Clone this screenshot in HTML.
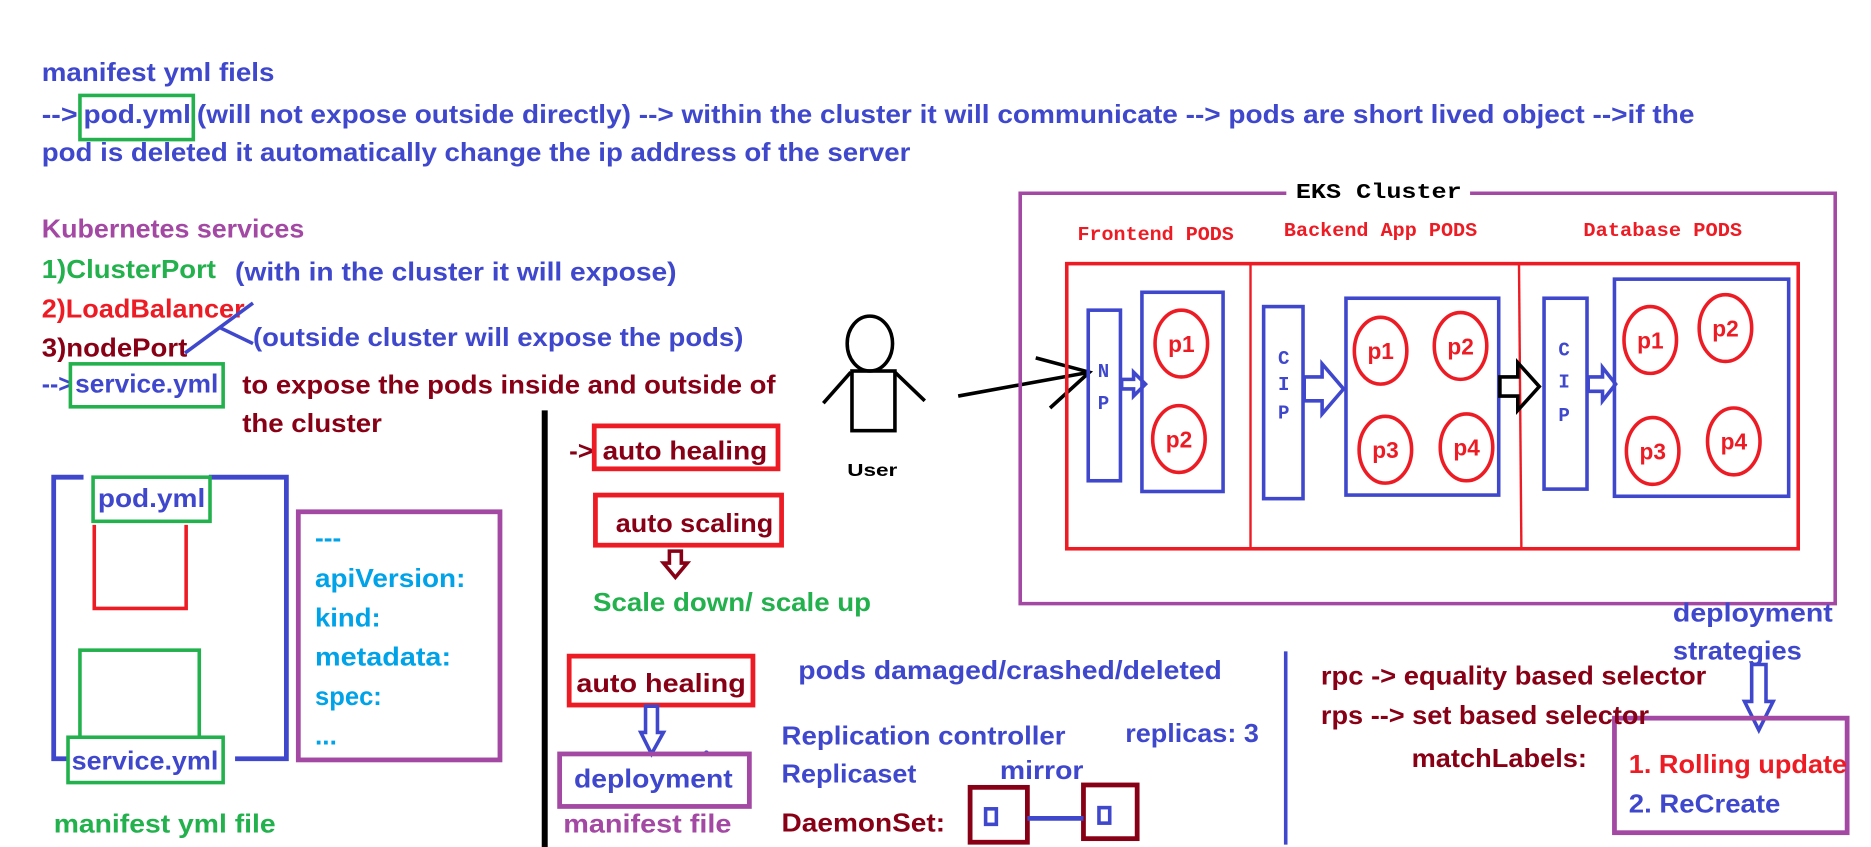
<!DOCTYPE html>
<html><head><meta charset="utf-8"><style>
html,body{margin:0;padding:0;background:#fff;}
svg{display:block;}
text{font-family:"Liberation Sans",sans-serif;font-weight:bold;font-size:22px;}
.m{font-family:"Liberation Mono",monospace;font-size:16px;}
</style></head><body>
<svg width="1871" height="847" viewBox="0 0 1568 710" preserveAspectRatio="none" xmlns="http://www.w3.org/2000/svg">
<rect width="1568" height="710" fill="#fff"/>
<g>
<text x="35" y="68" fill="#3f48cc" textLength="195" lengthAdjust="spacingAndGlyphs">manifest yml fiels</text>
<text x="35" y="103" fill="#3f48cc" textLength="30" lengthAdjust="spacingAndGlyphs">--&gt;</text>
<rect x="67" y="80" width="95" height="37" fill="none" stroke="#22b14c" stroke-width="3"/>
<text x="70" y="103" fill="#3f48cc" textLength="90" lengthAdjust="spacingAndGlyphs">pod.yml</text>
<text x="165" y="103" fill="#3f48cc" textLength="1255" lengthAdjust="spacingAndGlyphs">(will not expose outside directly) --&gt; within the cluster it will communicate --&gt; pods are short lived object --&gt;if the</text>
<text x="35" y="135" fill="#3f48cc" textLength="728" lengthAdjust="spacingAndGlyphs">pod is deleted it automatically change the ip address of the server</text>
<text x="35" y="199" fill="#a349a4" textLength="220" lengthAdjust="spacingAndGlyphs">Kubernetes services</text>
<text x="35" y="233" fill="#22b14c" textLength="146" lengthAdjust="spacingAndGlyphs">1)ClusterPort</text>
<text x="197" y="235" fill="#3f48cc" textLength="370" lengthAdjust="spacingAndGlyphs">(with in the cluster it will expose)</text>
<text x="35" y="266" fill="#ed1c24" textLength="170" lengthAdjust="spacingAndGlyphs">2)LoadBalancer</text>
<text x="35" y="299" fill="#880015" textLength="122" lengthAdjust="spacingAndGlyphs">3)nodePort</text>
<line x1="155" y1="296" x2="212" y2="254" stroke="#3f48cc" stroke-width="3"/>
<line x1="185" y1="275" x2="212" y2="288" stroke="#3f48cc" stroke-width="3"/>
<text x="212" y="290" fill="#3f48cc" textLength="411" lengthAdjust="spacingAndGlyphs">(outside cluster will expose the pods)</text>
<text x="35" y="329" fill="#3f48cc" textLength="26" lengthAdjust="spacingAndGlyphs">--&gt;</text>
<rect x="59" y="305" width="128" height="36" fill="none" stroke="#22b14c" stroke-width="3"/>
<text x="63" y="329" fill="#3f48cc" textLength="120" lengthAdjust="spacingAndGlyphs">service.yml</text>
<text x="203" y="330" fill="#880015" textLength="447" lengthAdjust="spacingAndGlyphs">to expose the pods inside and outside of</text>
<text x="203" y="362" fill="#880015" textLength="117" lengthAdjust="spacingAndGlyphs">the cluster</text>

<rect x="454" y="344" width="5" height="366" fill="#000"/>

<ellipse cx="729" cy="288" rx="19" ry="23" fill="none" stroke="#000" stroke-width="3"/>
<rect x="714" y="311" width="36" height="50" fill="none" stroke="#000" stroke-width="3"/>
<line x1="713" y1="312" x2="690" y2="338" stroke="#000" stroke-width="3"/>
<line x1="750" y1="312" x2="775" y2="336" stroke="#000" stroke-width="3"/>
<text x="710" y="399" fill="#000" style="font-size:15px" textLength="42" lengthAdjust="spacingAndGlyphs">User</text>
<line x1="803" y1="332" x2="913" y2="312" stroke="#000" stroke-width="3"/>
<polyline points="868,300 913,312 880,342" fill="none" stroke="#000" stroke-width="3"/>

<path d="M1078 162 H855 V506 H1538 V162 H1232" fill="none" stroke="#a349a4" stroke-width="3"/>
<text class="m" x="1086" y="166" fill="#000" style="font-size:18px" textLength="139" lengthAdjust="spacingAndGlyphs">EKS Cluster</text>
<text class="m" x="903" y="201" fill="#ed1c24" textLength="131" lengthAdjust="spacingAndGlyphs">Frontend PODS</text>
<text class="m" x="1076" y="198" fill="#ed1c24" textLength="162" lengthAdjust="spacingAndGlyphs">Backend App PODS</text>
<text class="m" x="1327" y="198" fill="#ed1c24" textLength="133" lengthAdjust="spacingAndGlyphs">Database PODS</text>
<rect x="894" y="221" width="613" height="239" fill="none" stroke="#ed1c24" stroke-width="3"/>
<line x1="1048" y1="221" x2="1048" y2="460" stroke="#ed1c24" stroke-width="2"/>
<line x1="1273" y1="221" x2="1275" y2="460" stroke="#ed1c24" stroke-width="2"/>

<g fill="none" stroke="#3f48cc" stroke-width="3">
<rect x="912" y="260" width="27" height="143"/>
<rect x="957" y="245" width="68" height="167"/>
<rect x="1059" y="257" width="33" height="161"/>
<rect x="1128" y="250" width="128" height="165"/>
<rect x="1294" y="250" width="36" height="160"/>
<rect x="1353" y="234" width="146" height="182"/>
<path d="M940 318 H950 V312 L960 322 L950 332 V326 H940 Z"/>
<path d="M1093 316 H1108 V305 L1126 326 L1108 347 V336 H1093 Z"/>
<path d="M1331 316 H1343 V308 L1354 322 L1343 336 V328 H1331 Z"/>
</g>
<path d="M1257 316 H1272 V304 L1290 324 L1272 344 V332 H1257 Z" fill="none" stroke="#000" stroke-width="3"/>
<text class="m" x="920" y="316" fill="#3f48cc" style="font-size:16px">N</text>
<text class="m" x="920" y="343" fill="#3f48cc" style="font-size:16px">P</text>
<text class="m" x="1071" y="305" fill="#3f48cc" style="font-size:16px">C</text>
<text class="m" x="1071" y="327" fill="#3f48cc" style="font-size:16px">I</text>
<text class="m" x="1071" y="351" fill="#3f48cc" style="font-size:16px">P</text>
<text class="m" x="1306" y="298" fill="#3f48cc" style="font-size:16px">C</text>
<text class="m" x="1306" y="325" fill="#3f48cc" style="font-size:16px">I</text>
<text class="m" x="1306" y="353" fill="#3f48cc" style="font-size:16px">P</text>
<g fill="none" stroke="#ed1c24" stroke-width="3">
<ellipse cx="990" cy="288" rx="22" ry="28"/>
<ellipse cx="988" cy="368" rx="22" ry="28"/>
<ellipse cx="1157" cy="294" rx="22" ry="28"/>
<ellipse cx="1224" cy="290" rx="22" ry="28"/>
<ellipse cx="1161" cy="377" rx="22" ry="28"/>
<ellipse cx="1229" cy="375" rx="22" ry="28"/>
<ellipse cx="1383" cy="285" rx="22" ry="28"/>
<ellipse cx="1446" cy="275" rx="22" ry="28"/>
<ellipse cx="1385" cy="378" rx="22" ry="28"/>
<ellipse cx="1453" cy="370" rx="22" ry="28"/>
</g>
<text x="979" y="295" fill="#ed1c24" style="font-size:19px">p1</text>
<text x="977" y="375" fill="#ed1c24" style="font-size:19px">p2</text>
<text x="1146" y="301" fill="#ed1c24" style="font-size:19px">p1</text>
<text x="1213" y="297" fill="#ed1c24" style="font-size:19px">p2</text>
<text x="1150" y="384" fill="#ed1c24" style="font-size:19px">p3</text>
<text x="1218" y="382" fill="#ed1c24" style="font-size:19px">p4</text>
<text x="1372" y="292" fill="#ed1c24" style="font-size:19px">p1</text>
<text x="1435" y="282" fill="#ed1c24" style="font-size:19px">p2</text>
<text x="1374" y="385" fill="#ed1c24" style="font-size:19px">p3</text>
<text x="1442" y="377" fill="#ed1c24" style="font-size:19px">p4</text>

<text x="1402" y="521" fill="#3f48cc" textLength="134" lengthAdjust="spacingAndGlyphs">deployment</text>
<text x="1402" y="553" fill="#3f48cc" textLength="108" lengthAdjust="spacingAndGlyphs">strategies</text>
<path d="M1468 557 H1480 V588 H1486 L1474 612 L1462 588 H1468 Z" fill="none" stroke="#3f48cc" stroke-width="3"/>
<rect x="1353" y="602" width="195" height="96" fill="none" stroke="#a349a4" stroke-width="4"/>
<text x="1365" y="648" fill="#ed1c24" textLength="183" lengthAdjust="spacingAndGlyphs">1. Rolling update</text>
<text x="1365" y="681" fill="#3f48cc" textLength="127" lengthAdjust="spacingAndGlyphs">2. ReCreate</text>
<text x="1107" y="574" fill="#880015" textLength="323" lengthAdjust="spacingAndGlyphs">rpc -&gt; equality based selector</text>
<text x="1107" y="607" fill="#880015" textLength="275" lengthAdjust="spacingAndGlyphs">rps --&gt; set based selector</text>
<text x="1183" y="643" fill="#880015" textLength="147" lengthAdjust="spacingAndGlyphs">matchLabels:</text>
<rect x="1076" y="546" width="3" height="162" fill="#3f48cc"/>

<text x="669" y="569" fill="#3f48cc" textLength="355" lengthAdjust="spacingAndGlyphs">pods damaged/crashed/deleted</text>
<text x="655" y="624" fill="#3f48cc" textLength="238" lengthAdjust="spacingAndGlyphs">Replication controller</text>
<text x="943" y="622" fill="#3f48cc" textLength="112" lengthAdjust="spacingAndGlyphs">replicas: 3</text>
<text x="655" y="656" fill="#3f48cc" textLength="113" lengthAdjust="spacingAndGlyphs">Replicaset</text>
<text x="838" y="653" fill="#3f48cc" textLength="70" lengthAdjust="spacingAndGlyphs">mirror</text>
<text x="655" y="697" fill="#880015" textLength="137" lengthAdjust="spacingAndGlyphs">DaemonSet:</text>
<rect x="813" y="660" width="48" height="46" fill="none" stroke="#880015" stroke-width="4"/>
<rect x="908" y="658" width="45" height="45" fill="none" stroke="#880015" stroke-width="4"/>
<rect x="826" y="678" width="9" height="13" fill="none" stroke="#3f48cc" stroke-width="3"/>
<rect x="921" y="677" width="9" height="13" fill="none" stroke="#3f48cc" stroke-width="3"/>
<line x1="861" y1="686" x2="908" y2="686" stroke="#3f48cc" stroke-width="4"/>
<circle cx="592" cy="631" r="2" fill="#3f48cc"/>

<text x="477" y="385" fill="#880015" textLength="20" lengthAdjust="spacingAndGlyphs">-&gt;</text>
<rect x="498" y="357" width="154" height="36" fill="none" stroke="#ed1c24" stroke-width="4"/>
<text x="505" y="385" fill="#880015" textLength="138" lengthAdjust="spacingAndGlyphs">auto healing</text>
<rect x="499" y="415" width="156" height="42" fill="none" stroke="#ed1c24" stroke-width="4"/>
<text x="516" y="446" fill="#880015" textLength="132" lengthAdjust="spacingAndGlyphs">auto scaling</text>
<path d="M561 462 H571 V472 H576 L566 484 L556 472 H561 Z" fill="none" stroke="#880015" stroke-width="3"/>
<text x="497" y="512" fill="#22b14c" textLength="233" lengthAdjust="spacingAndGlyphs">Scale down/ scale up</text>
<rect x="477" y="550" width="154" height="41" fill="none" stroke="#ed1c24" stroke-width="4"/>
<text x="483" y="580" fill="#880015" textLength="142" lengthAdjust="spacingAndGlyphs">auto healing</text>
<path d="M541 592 H551 V614 H556 L546 632 L537 614 H541 Z" fill="none" stroke="#3f48cc" stroke-width="3"/>
<rect x="469" y="632" width="159" height="44" fill="none" stroke="#a349a4" stroke-width="4"/>
<text x="481" y="660" fill="#3f48cc" textLength="133" lengthAdjust="spacingAndGlyphs">deployment</text>
<text x="472" y="698" fill="#a349a4" textLength="141" lengthAdjust="spacingAndGlyphs">manifest file</text>

<path d="M70 400 H45 V636 H57 M175 400 H240 V636 H197" fill="none" stroke="#3f48cc" stroke-width="4"/>
<path d="M79 440 V510 H156 V440" fill="none" stroke="#ed1c24" stroke-width="3"/>
<rect x="67" y="545" width="100" height="78" fill="none" stroke="#22b14c" stroke-width="3"/>
<rect x="78" y="400" width="98" height="37" fill="#fff" stroke="#22b14c" stroke-width="3"/>
<text x="82" y="425" fill="#3f48cc" textLength="90" lengthAdjust="spacingAndGlyphs">pod.yml</text>
<rect x="57" y="618" width="130" height="38" fill="#fff" stroke="#22b14c" stroke-width="3"/>
<text x="60" y="645" fill="#3f48cc" textLength="123" lengthAdjust="spacingAndGlyphs">service.yml</text>
<text x="45" y="698" fill="#22b14c" textLength="186" lengthAdjust="spacingAndGlyphs">manifest yml file</text>
<rect x="250" y="429" width="169" height="208" fill="none" stroke="#a349a4" stroke-width="4"/>
<text x="264" y="458" fill="#00a2e8">---</text>
<text x="264" y="492" fill="#00a2e8" textLength="126" lengthAdjust="spacingAndGlyphs">apiVersion:</text>
<text x="264" y="525" fill="#00a2e8" textLength="55" lengthAdjust="spacingAndGlyphs">kind:</text>
<text x="264" y="558" fill="#00a2e8" textLength="114" lengthAdjust="spacingAndGlyphs">metadata:</text>
<text x="264" y="591" fill="#00a2e8" textLength="56" lengthAdjust="spacingAndGlyphs">spec:</text>
<text x="264" y="624" fill="#00a2e8">...</text>
</g>
</svg>
</body></html>
